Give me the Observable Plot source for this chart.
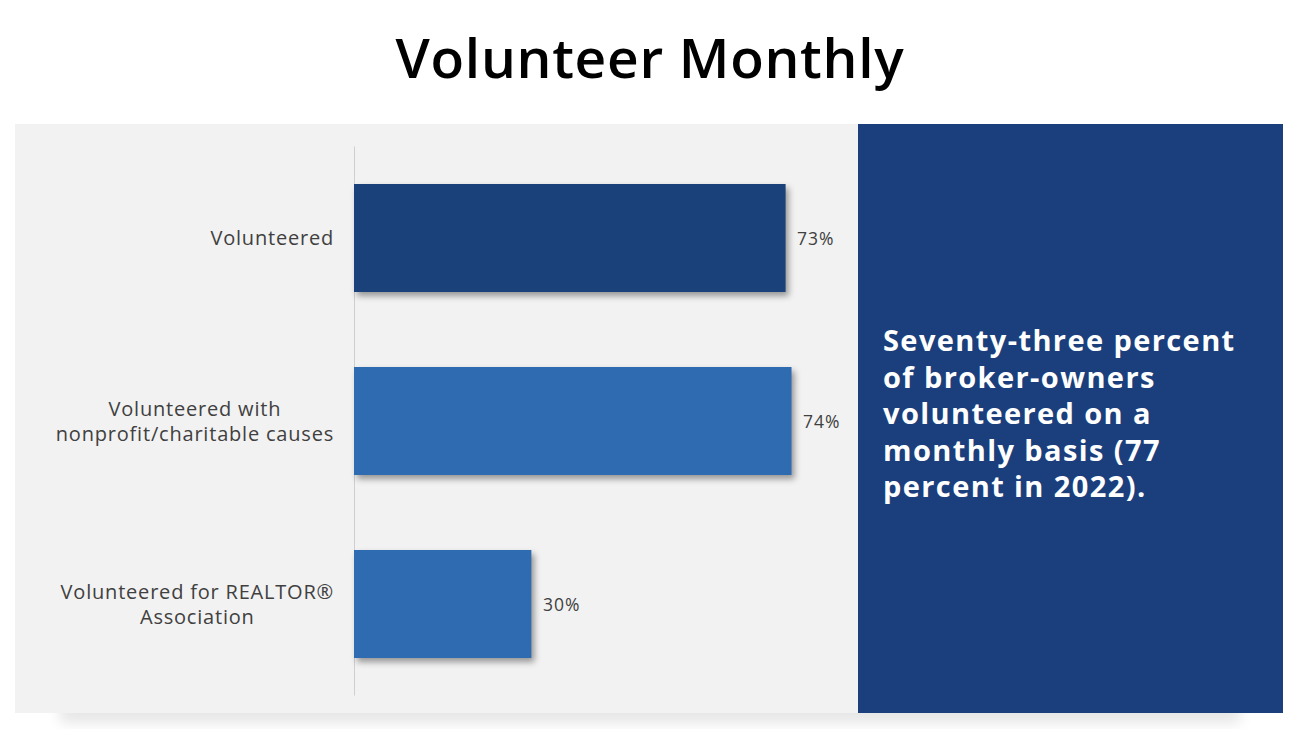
<!DOCTYPE html>
<html>
<head>
<meta charset="utf-8">
<script src="https://cdn.jsdelivr.net/npm/d3@7"></script>
<script src="https://cdn.jsdelivr.net/npm/@observablehq/plot@0.6"></script>
<style>
  html, body { margin: 0; padding: 0; background: #ffffff; }
  body { width: 1300px; height: 729px; position: relative; overflow: hidden; font-family: "Open Sans", sans-serif; }
  #title { position: absolute; left: 0; top: 22px; width: 1300px; text-align: center; font-size: 55px; font-weight: 600; color: #000; line-height: 70px; letter-spacing: 0.7px; }
  #shadow { position: absolute; left: 60px; top: 690px; width: 1180px; height: 23px; box-shadow: 0 10px 14px rgba(0,0,0,0.10); }
  #panel { position: absolute; left: 15px; top: 124px; width: 843px; height: 589px; background: #f2f2f2; }
  #callout { position: absolute; left: 858px; top: 124px; width: 425px; height: 589px; background: #1b3f7c; }
  #callout-text { position: absolute; left: 25px; top: 198px; font-size: 29px; font-weight: 700; color: #ffffff; line-height: 36.5px; white-space: nowrap; letter-spacing: 1.4px; }
</style>
</head>
<body>
<div id="title">Volunteer Monthly</div>
<div id="shadow"></div>
<div id="panel"></div>
<div id="callout"><div id="callout-text"></div></div>
<script>
const categories = [
  "Volunteered",
  "Volunteered with\nnonprofit/charitable causes",
  "Volunteered for REALTOR®\nAssociation"
];
const values = [73, 74, 30];
const barPalette = ["#1b417b", "#2e6bb1", "#2e6bb1"];
const calloutLines = [
  "Seventy-three percent",
  "of broker-owners",
  "volunteered on a",
  "monthly basis (77",
  "percent in 2022)."
];

const data = categories.map((c, i) => ({category: c, value: values[i]}));

const chart = Plot.plot({
  width: 843,
  height: 589,
  marginLeft: 339,
  marginRight: 31,
  marginTop: 22.5,
  marginBottom: 17.5,
  style: {background: "transparent", fontFamily: "'Open Sans', sans-serif"},
  x: {domain: [0, 80], axis: null},
  y: {domain: categories, axis: null, paddingInner: 0.41, paddingOuter: 0.205},
  color: {domain: categories, range: barPalette},
  marks: [
    Plot.ruleX([0], {stroke: "#cfcfcf", strokeWidth: 1}),
    Plot.barX(data, {x: "value", y: "category", fill: "category"}),
    Plot.text(data, {x: "value", y: "category", text: d => d.value + "%", dx: 11, dy: 1, textAnchor: "start", fill: "#404040", fontSize: 17.5}),
    Plot.text(data, {x: () => 0, y: "category", text: "category", textAnchor: "middle", lineHeight: 1.25, dy: -1.5, fill: "#404040", fontSize: 20})
  ]
});

document.getElementById("panel").appendChild(chart);

const svg = d3.select(chart);
svg.selectAll('g[aria-label="bar"] rect')
  .style("filter", "drop-shadow(3px 4px 3px rgba(0,0,0,0.38))");

const textGroups = svg.selectAll('g[aria-label="text"]').nodes();
d3.select(textGroups[0]).selectAll("text").style("letter-spacing", "1px");
const labelGroup = d3.select(textGroups[1]);
labelGroup.selectAll("text").style("letter-spacing", "0.8px");

// right-align the label blocks (lines centered) 20px left of the axis
const svgRect = chart.getBoundingClientRect();
labelGroup.selectAll("text").each(function() {
  const r = this.getBoundingClientRect();
  const target = svgRect.left + 319;
  const shift = target - r.right;
  const t = this.getAttribute("transform") || "";
  this.setAttribute("transform", (t + ` translate(${shift},0)`).trim());
});

document.getElementById("callout-text").innerHTML = calloutLines.join("<br>");
</script>
</body>
</html>
